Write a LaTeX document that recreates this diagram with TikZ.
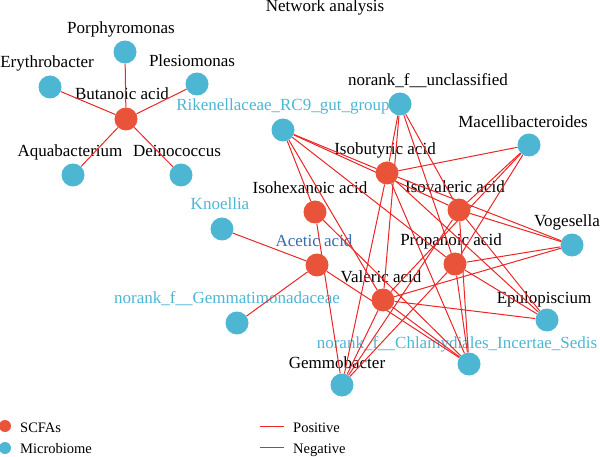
\documentclass[tikz,border=0pt]{standalone}
\usepackage{fontspec}
\setmainfont{Liberation Serif}
\usetikzlibrary{backgrounds}

\definecolor{scfared}{RGB}{232,83,58}
\definecolor{microblue}{RGB}{77,182,211}
\definecolor{posred}{RGB}{236,38,38}
\definecolor{neggreen}{RGB}{30,140,40}
\definecolor{aceticblue}{RGB}{52,108,180}

\tikzset{
  scfa/.style={circle,fill=scfared,minimum size=23pt,inner sep=0pt},
  microbe/.style={circle,fill=microblue,minimum size=23pt,inner sep=0pt},
  lbl/.style={anchor=base,inner sep=0pt,font=\fontsize{17}{19}\selectfont},
  keytext/.style={anchor=base west,inner sep=0pt,font=\fontsize{14.5}{16}\selectfont},
  poslink/.style={draw=posred,line width=1pt},
}

\begin{document}
\begin{tikzpicture}[x=1pt,y=-1pt]
    \useasboundingbox (0,0) rectangle (600,457);
    % butanoic acid star
    \node[scfa] (butan) at (126,119) {};
    \node[microbe] (porph) at (125,52) {};
    \node[microbe] (eryth) at (50,87) {};
    \node[microbe] (plesi) at (197,84) {};
    \node[microbe] (aquab) at (73,175) {};
    \node[microbe] (deino) at (181,175) {};
    % main network
    \node[scfa] (isobut) at (387,173) {};
    \node[scfa] (isohex) at (315,212) {};
    \node[scfa] (isoval) at (459,210) {};
    \node[scfa] (acetic) at (317,265) {};
    \node[scfa] (propan) at (455,264) {};
    \node[scfa] (valer) at (383,300) {};
    \node[microbe] (rike) at (283,130) {};
    \node[microbe] (uncl) at (400,104) {};
    \node[microbe] (macel) at (529,145) {};
    \node[microbe] (voges) at (572,245) {};
    \node[microbe] (knoel) at (222,229) {};
    \node[microbe] (gemma) at (237,323) {};
    \node[microbe] (epulo) at (547,320) {};
    \node[microbe] (chlam) at (469,364) {};
    \node[microbe] (gemmo) at (342,385) {};
    % legend
    \node[scfa,minimum size=12pt] (kscfa) at (5,426) {};
    \node[microbe,minimum size=12pt] (kmicro) at (5,448) {};
    \node[keytext] (tscfa) at (20,432) {SCFAs};
    \node[keytext] (tmicro) at (20,453) {Microbiome};
    \coordinate (kpos1) at (260,426);
    \coordinate (kpos2) at (284,426);
    \coordinate (kneg1) at (260,447);
    \coordinate (kneg2) at (284,447);
    \node[keytext] (tpos) at (293,432) {Positive};
    \node[keytext] (tneg) at (293,453) {Negative};

    \begin{pgfonlayer}{background}
    \node[lbl] (title) at (325,12) {Network analysis};
    \node[lbl] (lbutan) at (122,100) {Butanoic acid};
    \node[lbl] (lporph) at (121,34) {Porphyromonas};
    \node[lbl] (leryth) at (47,68) {Erythrobacter};
    \node[lbl] (lplesi) at (192,67) {Plesiomonas};
    \node[lbl] (laquab) at (70,157) {Aquabacterium};
    \node[lbl] (ldeino) at (177,157) {Deinococcus};
    \node[lbl] (lisobut) at (385,155) {Isobutyric acid};
    \node[lbl] (lisohex) at (310,194) {Isohexanoic acid};
    \node[lbl] (lisoval) at (455,193) {Isovaleric acid};
    \node[lbl,text=aceticblue] (lacetic) at (314,247) {Acetic acid};
    \node[lbl] (lpropan) at (451,246) {Propanoic acid};
    \node[lbl] (lvaler) at (381,283) {Valeric acid};
    \node[lbl,text=microblue] (lrike) at (283,111) {Rikenellaceae\_RC9\_gut\_group};
    \node[lbl] (luncl) at (428,86) {norank\_f\_\_unclassified};
    \node[lbl] (lmacel) at (523,128) {Macellibacteroides};
    \node[lbl] (lvoges) at (567,227) {Vogesella};
    \node[lbl,text=microblue] (lknoel) at (220,210) {Knoellia};
    \node[lbl,text=microblue] (lgemma) at (227,304) {norank\_f\_\_Gemmatimonadaceae};
    \node[lbl] (lepulo) at (544,303) {Epulopiscium};
    \node[lbl,text=microblue] (lchlam) at (457,348) {norank\_f\_\_Chlamydiales\_Incertae\_Sedis};
    \node[lbl] (lgemmo) at (337,368) {Gemmobacter};
    % positive correlations
    \foreach \m in {porph,eryth,plesi,aquab,deino}
        \draw[poslink] (butan) -- (\m);
    \foreach \s in {isobut,isoval,isohex,valer,propan}
        \draw[poslink] (rike) -- (\s);
    \foreach \s in {isobut,isoval,propan,valer}
        \draw[poslink] (uncl) -- (\s);
    \foreach \s in {isobut,isoval,propan,valer}
        \draw[poslink] (macel) -- (\s);
    \foreach \s in {isobut,isoval,propan,valer}
        \draw[poslink] (voges) -- (\s);
    \foreach \s in {isobut,isoval,propan,valer}
        \draw[poslink] (epulo) -- (\s);
    \foreach \s in {isohex,isobut,isoval,propan,valer,acetic}
        \draw[poslink] (chlam) -- (\s);
    \foreach \s in {isohex,isobut,isoval,propan,valer}
        \draw[poslink] (gemmo) -- (\s);
    \draw[poslink] (acetic) -- (knoel);
    \draw[poslink] (acetic) -- (gemma);
    % legend lines
    \draw[poslink] (kpos1) -- (kpos2);
    \draw[draw=neggreen,line width=1pt] (kneg1) -- (kneg2);
    \end{pgfonlayer}
\end{tikzpicture}
\end{document}
